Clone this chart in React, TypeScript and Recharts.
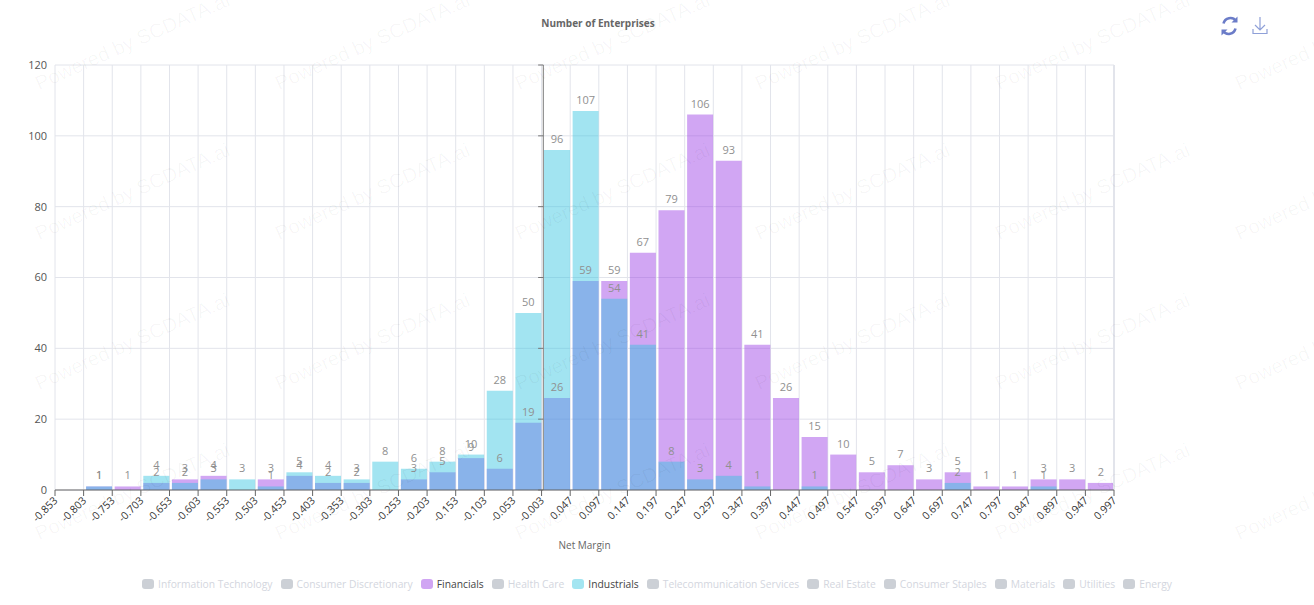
import { Bar, CartesianGrid, ComposedChart, LabelList, ReferenceLine, XAxis, YAxis } from 'recharts'

// Histogram of net margin, 0.05 wide bins. binEdges has one more entry than the series.
const binEdges = [
  -0.853, -0.803, -0.753, -0.703, -0.653, -0.603, -0.553, -0.503, -0.453, -0.403, -0.353, -0.303, -0.253,
  -0.203, -0.153, -0.103, -0.053, -0.003, 0.047, 0.097, 0.147, 0.197, 0.247, 0.297, 0.347, 0.397, 0.447,
  0.497, 0.547, 0.597, 0.647, 0.697, 0.747, 0.797, 0.847, 0.897, 0.947, 0.997,
]
const financials = [
  null, 1, 1, 2, 3, 4, null, 3, 4, 2, 2, null, 3, 5, 9, 6, 19, 26, 59, 59, 67, 79, 106, 93, 41, 26, 15, 10,
  5, 7, 3, 5, 1, 1, 3, 3, 2,
]
const industrials = [
  null, 1, null, 4, 2, 3, 3, 1, 5, 4, 3, 8, 6, 8, 10, 28, 50, 96, 107, 54, 41, 8, 3, 4, 1, null, 1, null,
  null, null, null, 2, null, null, 1, null, null,
]
const yTicks = [0, 20, 40, 60, 80, 100, 120]
const activeLegend = ['Financials', 'Industrials']
const legendNames = [
  'Information Technology',
  'Consumer Discretionary',
  'Financials',
  'Health Care',
  'Industrials',
  'Telecommunication Services',
  'Real Estate',
  'Consumer Staples',
  'Materials',
  'Utilities',
  'Energy',
]
const watermarkRows = [95, 245, 395, 545]
const watermarkCols = [41, 281, 521, 761, 1001, 1241]

const FONT = '"Open Sans", sans-serif'
const FIN_COLOR = '#9a3ae4'
const IND_COLOR = '#30c4df'
const legendColors: Record<string, string> = { Financials: '#d0a5f3', Industrials: '#a3e5f1' }

// bars sit against the right edge of their bin in the original
const BAR_SHIFT = 0.0275

const rows = financials.map((f, i) => ({
  mid: binEdges[i] + BAR_SHIFT,
  financials: f,
  industrials: industrials[i],
}))

function Watermark() {
  return (
    <>
      {watermarkRows.flatMap((top) =>
        watermarkCols.map((left) => (
          <div
            key={`${top}-${left}`}
            style={{
              position: 'absolute',
              left,
              top: top - 24,
              fontFamily: 'Arial, "Liberation Sans", sans-serif',
              fontSize: 20,
              lineHeight: '24px',
              whiteSpace: 'nowrap',
              color: 'rgba(0,0,0,0.036)',
              transform: 'rotate(-24deg)',
              transformOrigin: '0 100%',
              pointerEvents: 'none',
            }}
          >
            Powered by SCDATA.ai
          </div>
        )),
      )}
    </>
  )
}

function LegendRow() {
  return (
    <div
      style={{
        position: 'absolute',
        left: 0,
        width: 1314,
        top: 577,
        display: 'flex',
        justifyContent: 'center',
        fontFamily: FONT,
        fontSize: 10.3,
        lineHeight: '14px',
      }}
    >
      {legendNames.map((name) => {
        const on = activeLegend.includes(name)
        return (
          <div key={name} style={{ display: 'flex', alignItems: 'center', margin: '0 4px' }}>
            <span
              style={{
                width: 12,
                height: 10,
                borderRadius: 3,
                marginRight: 4,
                background: on ? legendColors[name] : '#ccd0d6',
              }}
            />
            <span style={{ color: on ? '#444' : '#d3d6de', whiteSpace: 'nowrap' }}>{name}</span>
          </div>
        )
      })}
    </div>
  )
}

function ToolIcons() {
  return (
    <svg width={60} height={24} style={{ position: 'absolute', left: 1220, top: 14 }} fill="none">
      <g stroke="#6b7cc8" strokeWidth={2.6}>
        <path d="M3.5 9.5a7 7 0 0 1 12.5-2.5" />
        <path d="M15.5 14.5a7 7 0 0 1-12.5 2.5" />
      </g>
      <path d="M17.5 2.5v6h-6z" fill="#6b7cc8" />
      <path d="M1.5 21.5v-6h6z" fill="#6b7cc8" />
      <g stroke="#8fa0d8" strokeWidth={1.2}>
        <path d="M40 3v13M35 11l5 5 5-5" />
        <path d="M33 15v4.5h14V15" />
      </g>
    </svg>
  )
}

export default function App() {
  return (
    <div style={{ position: 'absolute', left: 0, top: 0, width: 1314, height: 605, background: '#fff', overflow: 'hidden' }}>
      <div
        style={{
          position: 'absolute',
          left: 0,
          width: 1196,
          top: 16,
          textAlign: 'center',
          fontFamily: FONT,
          fontSize: 10,
          fontWeight: 700,
          lineHeight: '14px',
          color: '#666',
        }}
      >
        Number of Enterprises
      </div>
      <ComposedChart
        width={1314}
        height={605}
        data={rows}
        margin={{ top: 65, right: 200, bottom: 0, left: 0 }}
        barSize={26}
        barGap={-26}
      >
        <CartesianGrid stroke="#e2e4eb" />
        <XAxis
          dataKey="mid"
          type="number"
          domain={[-0.853, 0.997]}
          ticks={binEdges}
          interval={0}
          height={115}
          angle={-45}
          textAnchor="end"
          tickMargin={0}
          tickLine={{ stroke: '#666' }}
          axisLine={{ stroke: '#666' }}
          tick={{ fill: '#333', fontSize: 10.5, fontFamily: FONT, dx: -2 }}
          label={{ value: 'Net Margin', position: 'insideTop', offset: 52, fill: '#666', fontSize: 10, fontFamily: FONT }}
        />
        <YAxis
          width={55}
          domain={[0, 120]}
          ticks={yTicks}
          axisLine={false}
          tickLine={false}
          tick={{ fill: '#555', fontSize: 11, fontFamily: FONT }}
        />
        <ReferenceLine x={0.997} stroke="#e2e4eb" strokeWidth={2} />
        <ReferenceLine x={0} stroke="#777" strokeWidth={1} ifOverflow="visible" />
        {yTicks.map((t) => (
          <ReferenceLine
            key={t}
            segment={[
              { x: -0.009, y: t },
              { x: 0, y: t },
            ]}
            stroke="#777"
          />
        ))}
        <Bar dataKey="financials" fill={FIN_COLOR} fillOpacity={0.45} isAnimationActive={false}>
          <LabelList dataKey="financials" position="top" offset={7} fill="#909090" fontSize={11} fontFamily={FONT} />
        </Bar>
        <Bar dataKey="industrials" fill={IND_COLOR} fillOpacity={0.45} isAnimationActive={false}>
          <LabelList dataKey="industrials" position="top" offset={7} fill="#909090" fontSize={11} fontFamily={FONT} />
        </Bar>
      </ComposedChart>
      <LegendRow />
      <ToolIcons />
      <Watermark />
    </div>
  )
}
